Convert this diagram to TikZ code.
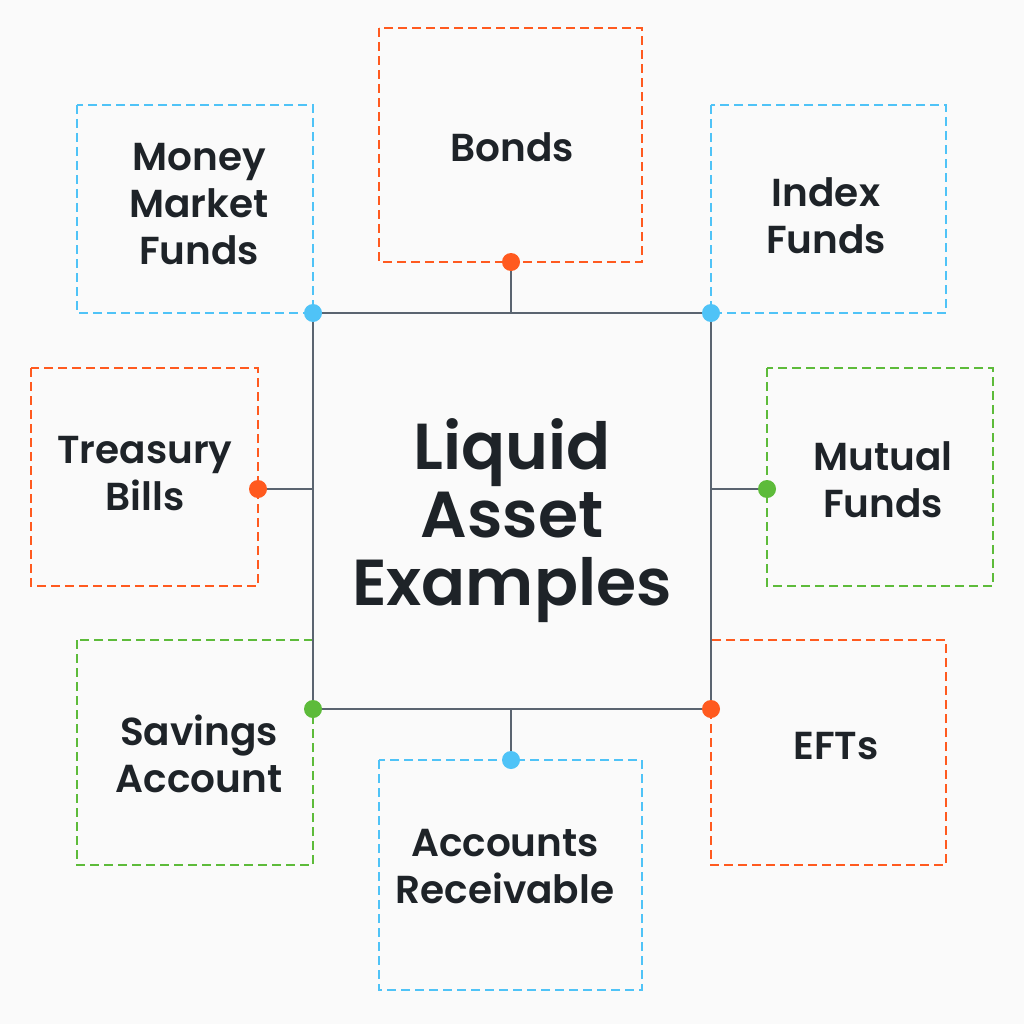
\documentclass[tikz,border=0pt]{standalone}
\usepackage{fontspec}
\setmainfont{Poppins}
\newfontfamily\psemi{Poppins SemiBold}
\begin{document}
\begin{tikzpicture}[x=1pt,y=-1pt]
\definecolor{bg}{HTML}{FAFAFA}
\definecolor{ln}{HTML}{5A6470}
\definecolor{cb}{HTML}{4FC3F7}
\definecolor{co}{HTML}{FF5A1F}
\definecolor{cg}{HTML}{5DBB3A}
\definecolor{tx}{HTML}{1E2328}
\tikzset{
 box/.style={draw=#1,line width=2pt,dash pattern=on 9pt off 5pt},
 lbl/.style={text=tx,font=\psemi\fontsize{39}{47}\selectfont,align=center},
 dot/.style={circle,fill=#1,inner sep=0pt,minimum size=18pt},
 conn/.style={draw=ln,line width=2.2pt}
}
\fill[bg] (0,0) rectangle (1024,1024);
\useasboundingbox (0,0) rectangle (1024,1024);
\draw[box=cb] (77,105) rectangle (313,313);
\draw[box=co] (379,28) rectangle (642,262);
\draw[box=cb] (711,105) rectangle (946,313);
\draw[box=co] (31,368) rectangle (258,586);
\draw[box=cg] (767,368) rectangle (993,586);
\draw[box=cg] (77,640) rectangle (313,865);
\draw[box=co] (711,640) rectangle (946,865);
\draw[box=cb] (379,760) rectangle (642,990);
\node[draw=ln,line width=2.2pt,minimum width=398pt,minimum height=396pt,inner sep=0pt] (c) at (512,511) {};
\node[lbl,font=\psemi\fontsize{65}{68}\selectfont] (ct) at (512,521) {Liquid\\Asset\\Examples};
\node[lbl] (t1) at (199,204) {Money\\Market\\Funds};
\node[lbl] (t2) at (512,147) {Bonds};
\node[lbl] (t3) at (826,216) {Index\\Funds};
\node[lbl] (t4) at (145,474) {Treasury\\Bills};
\node[lbl] (t5) at (883,480) {Mutual\\Funds};
\node[lbl] (t6) at (199,754) {Savings\\Account};
\node[lbl] (t7) at (836,746) {EFTs};
\node[lbl] (t8) at (505,867) {Accounts\\Receivable};
\coordinate (cT) at (511,313); \coordinate (cB) at (511,709);
\coordinate (cL) at (313,489); \coordinate (cR) at (711,489);
\node[dot=co] (d2) at (511,262) {};
\node[dot=co] (d4) at (258,489) {};
\node[dot=cg] (d5) at (767,489) {};
\node[dot=cb] (d8) at (511,760) {};
\draw[conn] (d2) -- (cT);
\draw[conn] (d4) -- (cL);
\draw[conn] (d5) -- (cR);
\draw[conn] (d8) -- (cB);
\node[dot=cb] (d1) at (313,313) {};
\node[dot=cb] (d3) at (711,313) {};
\node[dot=cg] (d6) at (313,709) {};
\node[dot=co] (d7) at (711,709) {};
\end{tikzpicture}
\end{document}
